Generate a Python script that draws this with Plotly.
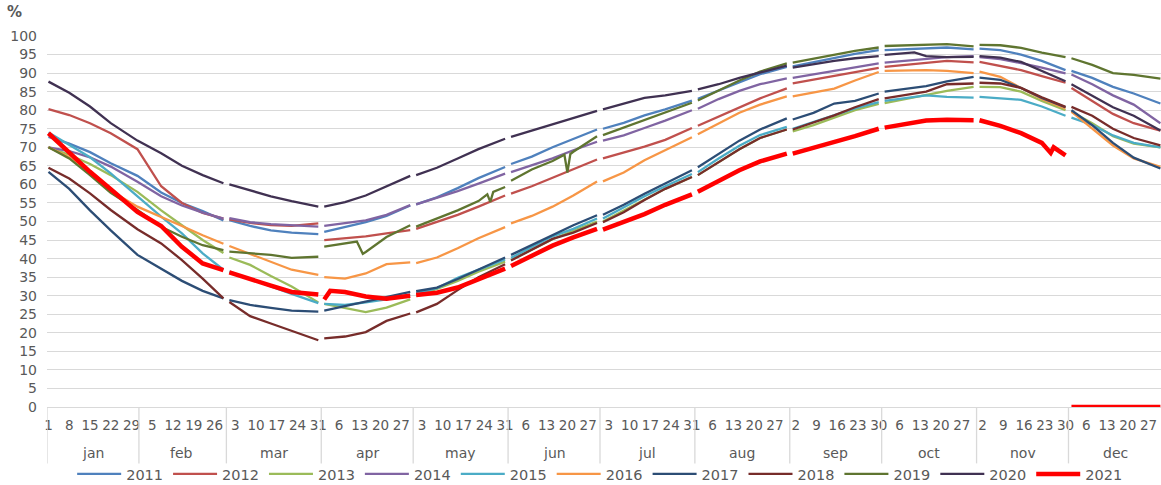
import plotly.graph_objects as go

# ---------------- data ----------------
MONTHS = ["jan", "feb", "mar", "apr", "may", "jun", "jul", "aug", "sep", "oct", "nov", "dec"]
DAYS_IN_MONTH = [31, 29, 31, 30, 31, 30, 31, 31, 30, 31, 30, 31]

TICK_DAYS = [
    [1, 8, 15, 22, 29], [5, 12, 19, 26], [3, 10, 17, 24, 31], [6, 13, 20, 27],
    [3, 10, 17, 24, 31], [6, 13, 20, 27], [3, 10, 17, 24, 31], [6, 13, 20, 27],
    [2, 9, 16, 23, 30], [6, 13, 20, 27], [2, 9, 16, 23, 30], [6, 13, 20, 27],
]

# sampled days (month index, day) shared by all series
SAMPLE_DAYS = [
    (0, 1), (0, 8), (0, 15), (0, 22), (0, 31),
    (1, 8), (1, 15), (1, 22), (1, 29),
    (2, 1), (2, 8), (2, 15), (2, 22), (2, 31),
    (3, 1), (3, 3), (3, 8), (3, 12), (3, 14), (3, 15), (3, 22), (3, 30),
    (4, 1), (4, 8), (4, 15), (4, 22), (4, 25), (4, 26), (4, 27), (4, 31),
    (5, 1), (5, 8), (5, 15), (5, 19), (5, 20), (5, 21), (5, 22), (5, 30),
    (6, 1), (6, 8), (6, 15), (6, 22), (6, 31),
    (7, 1), (7, 8), (7, 15), (7, 22), (7, 31),
    (8, 1), (8, 8), (8, 15), (8, 22), (8, 30),
    (9, 1), (9, 8), (9, 11), (9, 15), (9, 22), (9, 31),
    (10, 1), (10, 8), (10, 15), (10, 22), (10, 25), (10, 26), (10, 30),
    (11, 1), (11, 8), (11, 15), (11, 22), (11, 31),
]

N = None
Y2011 = [72.8, 71, 68.7, 65.7, 62.3, 57.8, 55, 52.8, 50.3,
         50.4, 48.8, 47.6, 47, 46.6,
         47.2, N, 48.6, N, N, 49.8, 51.5, 54.3,
         54.6, 56.5, 59, 61.7, N, N, N, 64.7,
         65.5, 67.5, 70, N, N, N, 72.3, 74.8,
         75, 76.6, 78.6, 80.2, 82.6,
         83.1, 85.3, 87.5, 89.7, 91.7,
         91.8, 93, 94.2, 95.2, 96.2,
         96.2, 96.5, N, 96.8, 96.9, 96.4,
         96.6, 96.2, 95, 93.3, N, N, 90.8,
         90.6, 88.7, 86.3, 84.5, 81.8]
Y2012 = [80.3, 78.7, 76.5, 73.8, 69.5, 59.5, 55, 52.3, 50.8,
         50.6, 49.6, 49, 48.8, 49.5,
         45, N, 45.5, N, N, 46, 46.8, 47.7,
         48, 49.8, 51.8, 54, N, N, N, 57,
         57.5, 59.5, 61.8, N, N, N, 64, 66.7,
         67, 68.5, 70.2, 72, 75.2,
         75.8, 78.3, 80.8, 83.2, 85.9,
         87.2, 88.2, 89.2, 90.3, 91.4,
         91.7, 92.3, N, 92.8, 93.3, 92.9,
         93, 92, 90.8, 89.2, N, N, 87.4,
         86, 82.5, 79, 76.5, 74.5]
Y2013 = [70, 68, 65.5, 62.5, 58, 53, 49, 45, 41.5,
         40.3, 38.3, 35.3, 32.5, 28.2,
         27.8, N, 26.6, N, N, 25.6, 26.8, 29,
         30, 31.8, 34, 36.5, N, N, N, 39.2,
         39.6, 42.5, 45.2, N, N, N, 47.5, 50,
         50, 53, 56, 58.8, 62,
         62.5, 66, 69.5, 72.5, 74.8,
         74.3, 76, 78, 80, 81.7,
         81.9, 83, N, 84, 85.2, 86.3,
         86.3, 86.2, 85, 82.5, N, N, 80,
         79.6, 76.5, 73, 71, 70]
Y2014 = [70, 69, 67.3, 64.8, 60.7, 56.8, 54.3, 52.4, 50.8,
         50.9, 49.8, 49.3, 49, 48.6,
         48.8, N, 49.5, N, N, 50.3, 51.8, 54.4,
         54.6, 56.3, 58.2, 60.2, N, N, N, 62.9,
         63.3, 65.2, 67, N, N, N, 69.2, 71.5,
         71.8, 73.2, 75.2, 77.2, 80,
         80.4, 83, 85.2, 87, 88.6,
         88.7, 89.6, 90.6, 91.6, 92.6,
         92.8, 93.3, N, 93.8, 94.3, 94.6,
         94.3, 93.8, 92.7, 91.5, N, N, 89.9,
         89.6, 87, 84, 81.5, 76.5]
Y2015 = [74, 70.6, 67.3, 63, 56.7, 51.3, 46.8, 41.4, 37,
         36.5, 34.4, 32.5, 30.5, 28,
         27.8, N, 27.5, N, N, 28.2, 29, 30.3,
         30.6, 32, 34.8, 37, N, N, N, 39.8,
         40.2, 43, 46, N, N, N, 48, 50.8,
         50.8, 53.8, 56.8, 59.5, 62.8,
         63.3, 67, 70.4, 73.3, 75.5,
         75, 76.8, 78.6, 80.5, 82.2,
         82.5, 83.2, N, 84, 83.6, 83.4,
         83.6, 83.3, 82.8, 81, N, N, 78.5,
         78, 76, 73.2, 71.2, 70]
Y2016 = [70, 67.3, 63, 58.3, 54, 51.3, 48.8, 46.3, 44,
         43.4, 41.2, 39, 37, 35.6,
         35, N, 34.6, N, N, 36, 38.5, 39,
         38.8, 40.3, 42.8, 45.5, N, N, N, 48.5,
         49.5, 51.5, 54, N, N, N, 57, 60.8,
         60.8, 63.2, 66.5, 69.3, 72.7,
         73.5, 76.5, 79.3, 81.5, 83.7,
         83.7, 84.7, 85.8, 88, 90.3,
         90.6, 90.8, N, 90.8, 90.6, 90,
         90.4, 89, 86, 83, N, N, 80.5,
         79.6, 75, 70.5, 67, 64.7]
Y2017 = [63.4, 58.8, 53, 47.6, 41, 37.3, 34, 31.3, 29.3,
         28.8, 27.5, 26.7, 26, 25.7,
         26, N, 27.2, N, N, 28.6, 29.6, 31,
         31.2, 32.2, 34.5, 37, N, N, N, 40.3,
         41, 43.7, 46.5, N, N, N, 49, 51.7,
         51.8, 54.5, 57.5, 60.3, 63.8,
         64.6, 68.3, 71.8, 74.8, 77.8,
         77.5, 79.3, 81.8, 82.5, 84.5,
         85, 85.7, N, 86.5, 87.8, 89,
         88.8, 88.2, 86, 83.3, N, N, 80.8,
         80, 76, 71.2, 67.2, 64.3]
Y2018 = [64.5, 61.6, 57.6, 53.1, 47.9, 44.1, 39.6, 34.6, 29.3,
         28.3, 24.5, 22.5, 20.5, 18,
         18.5, N, 19, N, N, 20.2, 23.2, 25.2,
         25.5, 27.8, 31.5, 35, N, N, N, 38.5,
         39.5, 42.5, 45.3, N, N, N, 47, 49.6,
         49.8, 52.5, 55.8, 58.8, 62,
         62.5, 66, 69.5, 72.5, 74.8,
         74.8, 76.7, 78.6, 80.8, 83,
         83.2, 84, N, 85, 87, 87.2,
         87.4, 87.2, 86, 83.5, N, N, 80.9,
         80.9, 78.5, 75, 72.5, 70.5]
Y2019 = [70, 67, 62.5, 57.7, 53.1, 48.6, 45.9, 43.6, 42.3,
         41.9, 41.4, 41, 40.2, 40.5,
         43.2, N, 44, 44.6, 41.3, 41.8, 45.8, 49,
         48.6, 50.8, 53, 55.5, 57.3, 55.3, 58, 59.3,
         61, 64, 66.3, 68, 63.2, 68.2, 68.8, 73,
         73.3, 75.3, 77.5, 79.5, 82,
         82.6, 85.3, 88, 90.4, 92.6,
         92.8, 93.8, 95, 96, 96.9,
         97.3, 97.5, N, 97.6, 97.8, 97.2,
         97.6, 97.5, 96.8, 95.5, N, N, 94.3,
         94, 92.2, 90, 89.5, 88.5]
Y2020 = [87.7, 84.7, 81, 76.5, 71.8, 68.4, 65, 62.5, 60.3,
         60, 58.3, 56.8, 55.5, 54,
         54, N, 55.2, N, N, 57, 59.5, 62.3,
         62.5, 64.5, 67, 69.5, N, N, N, 72.3,
         72.8, 74.5, 76, N, N, N, 77.8, 79.8,
         80.2, 81.8, 83.3, 84, 85.2,
         85.6, 87, 88.7, 90.2, 92,
         91.5, 92.5, 93.3, 94, 94.6,
         94.9, 95.3, 95.6, 94.6, 94.3, 94.4,
         94.6, 94.2, 93, 90.5, N, N, 87.8,
         87, 83.8, 80.8, 78.5, 74.5]
Y2021 = [73.8, 68.4, 63.4, 58.7, 52.6, 48.8, 43.2, 38.7, 36.9,
         36.3, 34.4, 32.7, 31, 30.3,
         29, 31.3, 31, N, N, 29.8, 29.2, 30,
         30.2, 30.8, 32.2, 34.3, N, N, N, 37.3,
         38, 40.8, 43.5, N, N, N, 45.7, 48,
         47.8, 49.8, 52, 54.5, 57.3,
         58, 61, 63.8, 66.2, 68.3,
         68.3, 69.8, 71.2, 73, 75,
         75.3, 76.2, N, 77.2, 77.4, 77.3,
         77.3, 75.8, 73.8, 71.2, 68.5, 70, 67.8,
         0, 0, 0, 0, 0]

SERIES = [
    ("2011", Y2011, "#4F81BD"), ("2012", Y2012, "#C0504D"), ("2013", Y2013, "#9BBB59"),
    ("2014", Y2014, "#8064A2"), ("2015", Y2015, "#4BACC6"), ("2016", Y2016, "#F79646"),
    ("2017", Y2017, "#2C4D75"), ("2018", Y2018, "#772C2A"), ("2019", Y2019, "#5F7530"),
    ("2020", Y2020, "#403152"), ("2021", Y2021, "#FF0000"),
]

# ---------------- category axis (leap-year layout, a blank slot between months from mar on) --
month_start = []
pos = 0
for m, nd in enumerate(DAYS_IN_MONTH):
    if m >= 2:
        pos += 1
    month_start.append(pos)
    pos += nd


def xpos(m, d):
    return month_start[m] + d - 1


fig = go.Figure()
for name, vals, color in SERIES:
    xs, ys = [], []
    prev_m = None
    for (m, d), v in zip(SAMPLE_DAYS, vals):
        if v is None:
            continue
        if prev_m is not None and m != prev_m and m >= 2:
            xs.append(None)
            ys.append(None)
        xs.append(xpos(m, d))
        ys.append(v)
        prev_m = m
    fig.add_trace(go.Scatter(
        x=xs, y=ys, mode="lines", name=name,
        line=dict(color=color, width=4.5 if name == "2021" else 2.3),
        connectgaps=False,
    ))

tickvals, ticktext = [], []
for m, days in enumerate(TICK_DAYS):
    for d in days:
        tickvals.append(xpos(m, d))
        ticktext.append(str(d))

GRID = "#D9D9D9"
TXT = "#595959"
FONT = "DejaVu Sans"

# month separators and labels
sep_x = [-0.5, month_start[1] - 0.5] + [month_start[m] - 1 for m in range(2, 12)]
for sx in sep_x:
    fig.add_shape(type="line", xref="x", yref="paper", x0=sx, x1=sx, y0=0, y1=-0.152,
                  line=dict(color=GRID, width=1.3))
for m, name in enumerate(MONTHS):
    cx = month_start[m] + (DAYS_IN_MONTH[m] - 1) / 2
    fig.add_annotation(x=cx, y=-0.124, xref="x", yref="paper", text=name, showarrow=False,
                       font=dict(family=FONT, size=14, color=TXT), yanchor="middle")

fig.add_annotation(x=-0.029, y=1.066, xref="paper", yref="paper", text="<b>%</b>", showarrow=False,
                   font=dict(family=FONT, size=15, color=TXT), xanchor="center", yanchor="middle")

fig.update_layout(
    width=1161, height=485,
    margin=dict(l=47, r=0, t=36, b=78),
    plot_bgcolor="white", paper_bgcolor="white",
    font=dict(family=FONT, size=14, color=TXT),
    showlegend=True,
    legend=dict(orientation="h", xref="container", yref="container",
                x=0.5165, xanchor="center", y=1 - 474 / 485, yanchor="middle",
                font=dict(family=FONT, size=14.5, color=TXT), itemwidth=44,
                bgcolor="rgba(0,0,0,0)"),
    xaxis=dict(range=[-0.5, 375.2], tickvals=tickvals, ticktext=ticktext, tickangle=0,
               showgrid=False, zeroline=False, showline=True, linecolor=GRID, linewidth=1.3,
               ticks="", ticklabelstandoff=6, automargin=False,
               tickfont=dict(family=FONT, size=13.5, color=TXT)),
    yaxis=dict(range=[0, 100], dtick=5, tick0=0, showgrid=True, gridcolor=GRID, gridwidth=1.3,
               zeroline=False, showline=False, ticks="", ticklabelstandoff=9, automargin=False,
               tickfont=dict(family=FONT, size=14, color=TXT)),
)

fig.write_html("out.html", config={"displayModeBar": False},
               post_script="document.body.style.margin='0';document.body.style.overflow='hidden';")
